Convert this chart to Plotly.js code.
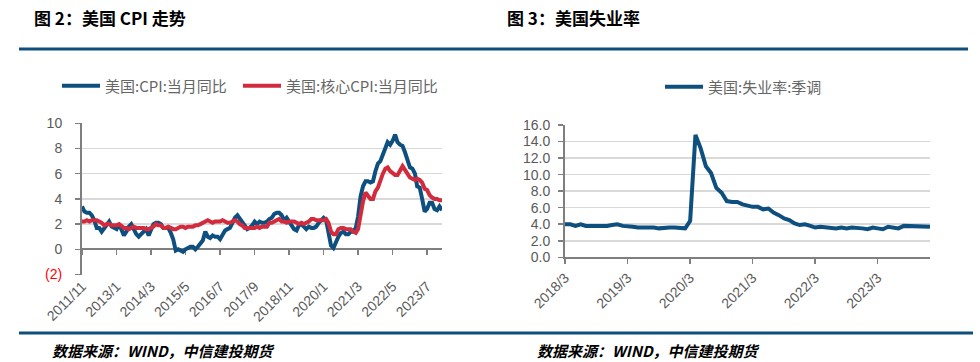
<!DOCTYPE html>
<html>
<head>
<meta charset="utf-8">
<script src="https://cdn.plot.ly/plotly-3.0.1.min.js"></script>
<style>
html,body{margin:0;padding:0;background:#fff;}
#chart{width:980px;height:362px;}
</style>
</head>
<body>
<div id="chart"></div>
<script>
// ---- data ----
var cpiStart = [2011, 11];
var cpiYoY = [3.4,3.0,
2.9,2.9,2.7,2.3,1.7,1.7,1.4,1.7,2.0,2.2,1.8,1.7,
1.6,2.0,1.5,1.1,1.4,1.8,2.0,1.5,1.2,1.0,1.2,1.5,
1.6,1.1,1.5,2.0,2.1,2.1,2.0,1.7,1.7,1.7,1.3,0.8,
-0.1,0.0,-0.1,-0.2,0.0,0.1,0.2,0.2,0.0,0.2,0.5,0.7,
1.4,1.0,0.9,1.1,1.0,1.0,0.8,1.1,1.5,1.6,1.7,2.1,
2.5,2.7,2.4,2.2,1.9,1.6,1.7,1.9,2.2,2.0,2.2,2.1,
2.1,2.2,2.4,2.5,2.8,2.9,2.9,2.7,2.3,2.5,2.2,1.9,
1.6,1.5,1.9,2.0,1.8,1.6,1.8,1.7,1.7,1.8,2.1,2.3,
2.5,2.3,1.5,0.3,0.1,0.6,1.0,1.3,1.4,1.2,1.2,1.4,
1.4,1.7,2.6,4.2,5.0,5.4,5.4,5.3,5.4,6.2,6.8,7.0,
7.5,7.9,8.5,8.3,8.6,9.1,8.5,8.3,8.2,7.7,7.1,6.5,
6.4,6.0,5.0,4.9,4.0,3.0,3.2,3.7,3.7,3.2,3.1,3.4,
3.1];
var coreYoY = [2.2,2.2,
2.3,2.2,2.3,2.3,2.3,2.2,2.1,1.9,2.0,2.0,1.9,1.9,
1.9,2.0,1.9,1.7,1.7,1.6,1.7,1.8,1.7,1.7,1.7,1.7,
1.6,1.6,1.7,1.8,2.0,1.9,1.9,1.7,1.7,1.8,1.7,1.6,
1.6,1.7,1.8,1.8,1.7,1.8,1.8,1.8,1.9,1.9,2.0,2.1,
2.2,2.3,2.2,2.1,2.2,2.2,2.2,2.3,2.2,2.1,2.1,2.2,
2.3,2.2,2.0,1.9,1.7,1.7,1.7,1.7,1.7,1.8,1.7,1.8,
1.8,1.8,2.1,2.1,2.2,2.3,2.4,2.2,2.2,2.1,2.2,2.2,
2.2,2.1,2.0,2.1,2.0,2.1,2.2,2.4,2.4,2.3,2.3,2.3,
2.3,2.4,2.1,1.4,1.2,1.2,1.6,1.7,1.7,1.6,1.6,1.6,
1.4,1.3,1.6,3.0,3.8,4.5,4.3,4.0,4.0,4.6,4.9,5.5,
6.0,6.4,6.5,6.2,6.0,5.9,5.9,6.3,6.6,6.3,6.0,5.7,
5.6,5.5,5.6,5.5,5.3,4.8,4.7,4.3,4.1,4.0,4.0,3.9,
3.9];
var cpiTicks = ["2011/11","2013/1","2014/3","2015/5","2016/7","2017/9","2018/11","2020/1","2021/3","2022/5","2023/7"];
var cpiYTickVals = [-2,0,2,4,6,8,10];
var cpiYTickText = ['<span style="color:#ff0000">(2)</span>',"0","2","4","6","8","10"];

var unempStart = [2018, 3];
var unempRate = [4.0,4.0,3.8,4.0,3.8,3.8,3.7,3.8,3.8,3.9,
4.0,3.8,3.8,3.7,3.6,3.6,3.7,3.6,3.5,3.6,3.6,3.6,
3.5,3.5,4.4,14.8,13.2,11.0,10.2,8.4,7.8,6.8,6.7,6.7,
6.4,6.2,6.1,6.1,5.8,5.9,5.4,5.1,4.7,4.5,4.1,3.9,
4.0,3.8,3.6,3.7,3.6,3.6,3.5,3.6,3.5,3.6,3.6,3.5,
3.4,3.6,3.5,3.4,3.7,3.6,3.5,3.8,3.8,3.8,3.7,3.7,
3.7];
var unempTicks = ["2018/3","2019/3","2020/3","2021/3","2022/3","2023/3"];

// ---- helpers ----
function months(start, n){
  var out=[], y=start[0], m=start[1];
  for(var i=0;i<n;i++){
    out.push(y+"-"+(m<10?"0":"")+m+"-01");
    m++; if(m>12){m=1;y++;}
  }
  return out;
}
function labelToDate(s){
  var p=s.split("/"); var m=+p[1];
  return p[0]+"-"+(m<10?"0":"")+m+"-01";
}
var cpiX = months(cpiStart, cpiYoY.length);
var unX = months(unempStart, unempRate.length);

var BLUE = "#0d4f7e", RED = "#d22b3e", GRID = "#d9d9d9", AX = "#7f7f7f", TXT = "#595959";
var tickFont = {family:"Liberation Sans, Arial, sans-serif", size:14, color:TXT};
var legFont = {family:"Noto Sans CJK SC, sans-serif", size:15, color:"#666666"};

var traces = [
  {x:cpiX, y:cpiYoY, type:"scatter", mode:"lines", name:"美国:CPI:当月同比",
   line:{color:BLUE, width:4}, xaxis:"x", yaxis:"y", legend:"legend"},
  {x:cpiX, y:coreYoY, type:"scatter", mode:"lines", name:"美国:核心CPI:当月同比",
   line:{color:RED, width:4}, xaxis:"x", yaxis:"y", legend:"legend3"},
  {x:[], y:[], type:"scatter", mode:"lines", xaxis:"x2", yaxis:"y", showlegend:false, hoverinfo:"skip"},
  {x:unX, y:unempRate, type:"scatter", mode:"lines", name:"美国:失业率:季调",
   line:{color:BLUE, width:4}, xaxis:"x3", yaxis:"y3", legend:"legend2"}
];

var lyDom = [0.2417, 0.6594];
var cpiRange = [cpiX[0], cpiX[cpiX.length-1]];

var layout = {
  width:980, height:362,
  margin:{l:0,r:0,t:0,b:0},
  paper_bgcolor:"#ffffff", plot_bgcolor:"rgba(0,0,0,0)",
  showlegend:true,
  xaxis:{domain:[82/980, 442/980], type:"date", range:cpiRange,
    tickvals:cpiTicks.map(labelToDate), ticktext:cpiTicks, tickangle:-45,
    showgrid:false, showline:false, zeroline:false, ticks:"", tickfont:tickFont,
    anchor:"y", layer:"below traces"},
  xaxis2:{type:"date", range:cpiRange, overlaying:"x", anchor:"free",
    position: lyDom[0] + (lyDom[1]-lyDom[0])*2/12,
    tickvals:cpiTicks.map(labelToDate), showticklabels:false,
    ticks:"outside", ticklen:5, tickwidth:1.5, tickcolor:AX,
    showline:true, linecolor:AX, linewidth:2, showgrid:false, zeroline:false,
    layer:"below traces"},
  yaxis:{domain:lyDom, range:[-2,10], tickvals:cpiYTickVals, ticktext:cpiYTickText,
    showgrid:true, gridcolor:GRID, gridwidth:1.5, zeroline:false,
    showline:true, linecolor:AX, linewidth:2, ticks:"outside", ticklen:5, tickwidth:1.5, tickcolor:AX,
    ticklabelstandoff:10,
    tickfont:tickFont, anchor:"x", layer:"below traces"},
  xaxis3:{domain:[565/980, 930/980], type:"date", range:[unX[0], unX[unX.length-1]],
    tickvals:unempTicks.map(labelToDate), ticktext:unempTicks, tickangle:-45,
    showgrid:false, zeroline:false, showline:true, linecolor:AX, linewidth:2,
    ticks:"outside", ticklen:5, tickwidth:1.5, tickcolor:AX, tickfont:tickFont,
    anchor:"y3", layer:"below traces"},
  yaxis3:{domain:[0.2892, 0.6547], range:[0,16], dtick:2, tickformat:".1f",
    showgrid:true, gridcolor:GRID, gridwidth:1.5, zeroline:false,
    showline:true, linecolor:AX, linewidth:2, ticks:"outside", ticklen:5, tickwidth:1.5, tickcolor:AX,
    ticklabelstandoff:5,
    tickfont:tickFont, anchor:"x3", layer:"below traces"},
  legend:{orientation:"h", x:57/980, xanchor:"left", y:1-86/362, yanchor:"middle",
    font:legFont, bgcolor:"rgba(0,0,0,0)", itemwidth:38},
  legend3:{orientation:"h", x:238/980, xanchor:"left", y:1-86/362, yanchor:"middle",
    font:legFont, bgcolor:"rgba(0,0,0,0)", itemwidth:38},
  legend2:{orientation:"h", x:660/980, xanchor:"left", y:1-87/362, yanchor:"middle",
    font:legFont, bgcolor:"rgba(0,0,0,0)", itemwidth:38},
  shapes:[
    {type:"line", xref:"paper", yref:"paper", x0:19/980, x1:968/980, y0:1-49/362, y1:1-49/362,
     line:{color:"#0f4f7d", width:3}},
    {type:"line", xref:"paper", yref:"paper", x0:19/980, x1:973/980, y0:1-333/362, y1:1-333/362,
     line:{color:"#0f4f7d", width:3}}
  ],
  annotations:[
    {text:"<b>图 2：美国 CPI 走势</b>", xref:"paper", yref:"paper", x:32/980, y:1-17/362,
     xanchor:"left", yanchor:"middle", showarrow:false,
     font:{family:"Noto Sans CJK SC, sans-serif", size:17, color:"#000"}},
    {text:"<b>图 3：美国失业率</b>", xref:"paper", yref:"paper", x:505/980, y:1-17/362,
     xanchor:"left", yanchor:"middle", showarrow:false,
     font:{family:"Noto Sans CJK SC, sans-serif", size:17, color:"#000"}},
    {text:"<b><i>数据来源：WIND，中信建投期货</i></b>", xref:"paper", yref:"paper", x:50/980, y:1-350/362,
     xanchor:"left", yanchor:"middle", showarrow:false,
     font:{family:"Noto Sans CJK SC, sans-serif", size:15, color:"#000"}},
    {text:"<b><i>数据来源：WIND，中信建投期货</i></b>", xref:"paper", yref:"paper", x:535/980, y:1-350/362,
     xanchor:"left", yanchor:"middle", showarrow:false,
     font:{family:"Noto Sans CJK SC, sans-serif", size:15, color:"#000"}}
  ]
};

Plotly.newPlot("chart", traces, layout, {staticPlot:true, displayModeBar:false});
</script>
</body>
</html>
